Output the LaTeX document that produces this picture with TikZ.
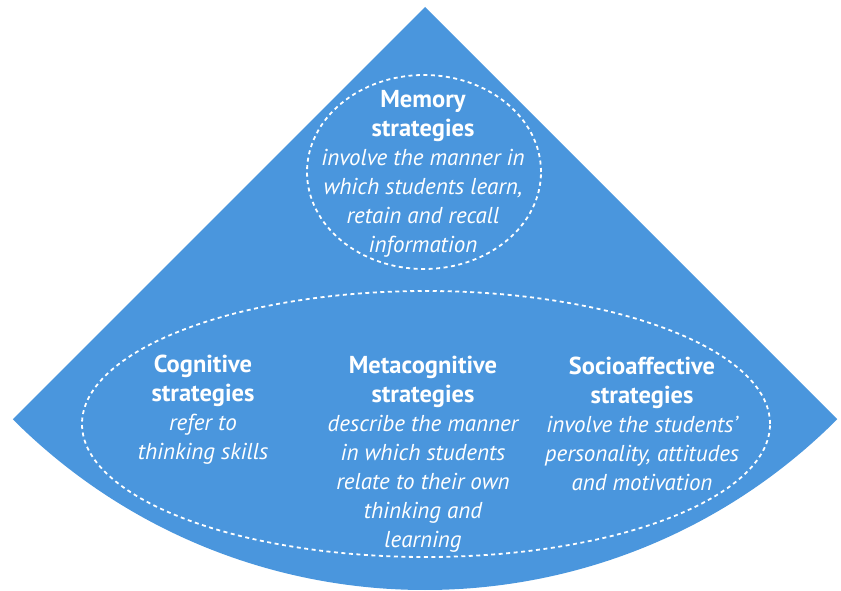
\documentclass[tikz,border=0pt]{standalone}
\usepackage{fontspec}
\setmainfont{PT Sans}
\usepackage{tikz}
\definecolor{fanblue}{RGB}{74,150,221}
\newcommand{\kind}[1]{{\fontsize{24.5}{29}\selectfont\upshape\bfseries #1}}

\begin{document}
\begin{tikzpicture}[x=1pt,y=1pt,
    ring/.style={draw=white,line width=1.8pt,dash pattern=on 4pt off 3.5pt},
    txt/.style={text=white,align=center,font=\fontsize{23}{29}\selectfont\itshape}]
      \useasboundingbox (0,0) rectangle (841,590);

      % the fan
      \fill[fanblue] (425,583) coordinate (apex) -- ++(225:583)
        arc[start angle=225,end angle=315,radius=583] -- cycle;

      % dotted rings
      \draw[ring] (424,418) ellipse[x radius=117,y radius=97];
      \draw[ring] (426,166) ellipse[x radius=344,y radius=133];

      \node[txt] (mem) at (423,416) {\kind{Memory}\\ \kind{strategies}\\
            involve the manner in\\ which students learn,\\
            retain and recall\\ information};
      \node[txt] (cog) at (203,180) {\kind{Cognitive}\\ \kind{strategies}\\
            refer to\\ thinking skills};
      \node[txt] (meta) at (423,136) {\kind{Metacognitive}\\ \kind{strategies}\\
            describe the manner\\ in which students\\
            relate to their own\\ thinking and\\ learning};
      \node[txt] (soc) at (642,166) {\kind{Socioaffective}\\ \kind{strategies}\\
            involve the students'\\ personality, attitudes\\
            and motivation};
    \end{tikzpicture}
\end{document}
